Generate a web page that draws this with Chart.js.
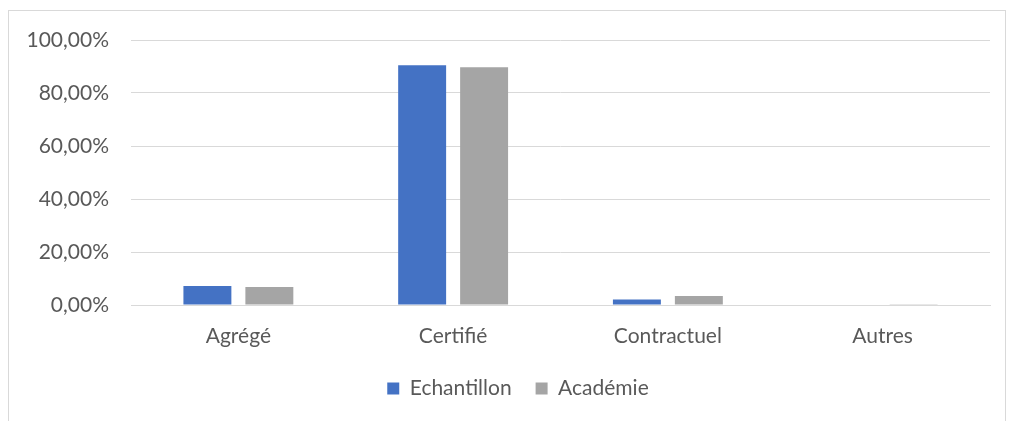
<!DOCTYPE html>
<html>
<head>
<meta charset="utf-8">
<script src="https://cdn.jsdelivr.net/npm/chart.js@4"></script>
<style>
  html, body { margin: 0; padding: 0; background: #fff; }
  #wrap { position: relative; width: 1012px; height: 421px; }
  #frame { position: absolute; left: 8px; top: 10px; width: 996px; height: 420px;
           border: 1px solid #d9d9d9; border-bottom: none; }
  canvas { position: absolute; left: 0; top: 0; }
</style>
</head>
<body>
<div id="wrap">
  <div id="frame"></div>
  <canvas id="chart" width="1012" height="421"></canvas>
</div>
<script>
// valeurs (en %)
var categories = ["Agrégé", "Certifié", "Contractuel", "Autres"];
var echantillon = [7.2, 90.5, 2.1, 0];
var academie = [6.8, 89.7, 3.4, 0.1];
var yTicks = [0, 20, 40, 60, 80, 100];

var font = { family: "Lato, 'Open Sans', sans-serif", size: 21 };
var grey = "#595959";

// décale la légende un peu vers la droite, comme dans l'original
var shiftLegend = {
  id: "shiftLegend",
  afterLayout: function (chart) { chart.legend.left = 46; }
};

var ctx = document.getElementById("chart");
var myChart = new Chart(ctx, {
  type: "bar",
  data: {
    labels: categories,
    datasets: [
      { label: "Echantillon", data: echantillon, backgroundColor: "#4472C4" },
      { label: "Académie", data: academie, backgroundColor: "#A5A5A5" }
    ]
  },
  plugins: [shiftLegend],
  options: {
    responsive: false,
    animation: false,
    categoryPercentage: 0.577,
    barPercentage: 0.774,
    layout: { padding: { top: 40, right: 22, bottom: 12, left: 0 } },
    plugins: {
      tooltip: { enabled: false },
      legend: {
        position: "bottom",
        labels: {
          font: font, color: grey, boxWidth: 12, boxHeight: 12,
          padding: 24
        }
      }
    },
    scales: {
      x: {
        grid: { display: false },
        border: { color: "#d9d9d9" },
        ticks: { font: font, color: grey, padding: 11 },
        afterFit: function (s) { s.height = 49; }
      },
      y: {
        min: 0, max: 100,
        afterBuildTicks: function (s) { s.ticks = yTicks.map(v => ({ value: v })); },
        grid: { color: "#d9d9d9", drawTicks: false },
        border: { display: false },
        ticks: {
          font: font, color: grey, padding: 22,
          callback: v => v.toFixed(2).replace(".", ",") + "%"
        },
        afterFit: function (s) { s.width = 131; }
      }
    }
  }
});
</script>
</body>
</html>
